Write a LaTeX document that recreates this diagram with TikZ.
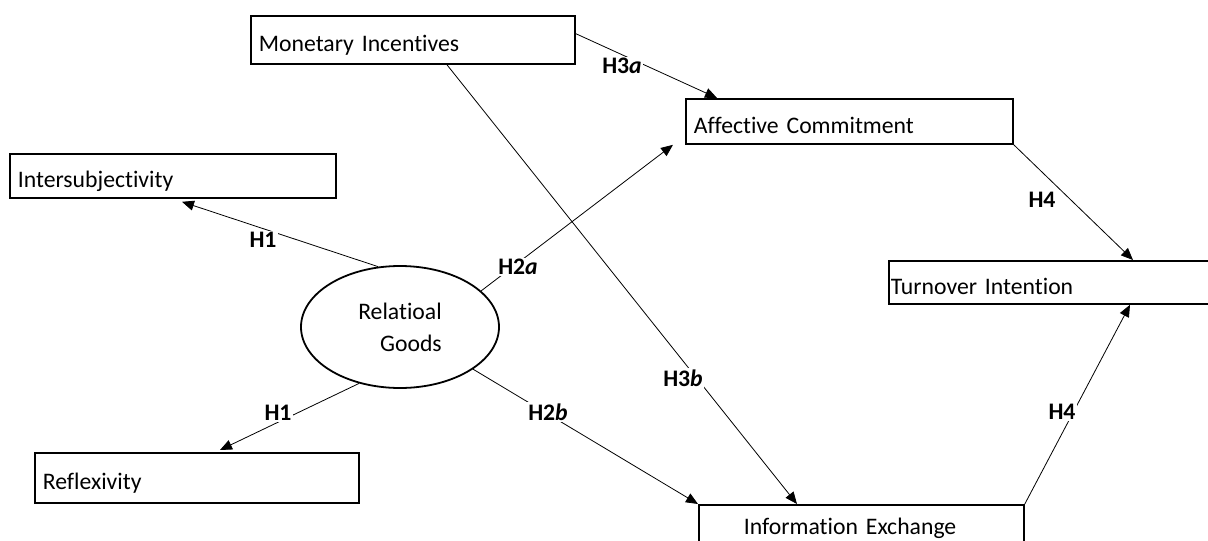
\documentclass[tikz,border=0pt]{standalone}
\usepackage{fontspec}
\setmainfont{Carlito}[Ligatures={NoCommon}]
\usetikzlibrary{arrows.meta,shapes.geometric,calc}
\begin{document}
\begin{tikzpicture}[x=1pt,y=-1pt,
  box/.style={draw, line width=1.8pt, rectangle, anchor=north west, inner xsep=8pt, inner ysep=0pt, align=left,
    text height=24pt, text depth=0pt, font=\fontsize{23.7}{28}\selectfont},
  conn/.style={line width=0.8pt, -{Triangle[length=12pt,width=10pt]}},
  hyp/.style={fill=white, inner sep=1.5pt, font=\fontsize{23.7}{28}\selectfont\bfseries}]
\useasboundingbox (0,0) rectangle (1208,541);
\fill[white] (0,0) rectangle (1208,541);
% boxes
\node[box, minimum height=48, text width=308] (mi) at (250,15) {Monetary Incentives};
\node[box, minimum height=45, text width=311] (ac) at (685,98) {Affective Commitment};
\node[box, minimum height=44, text width=310] (is) at (9,153) {Intersubjectivity};
\node[box, minimum height=43, text width=326, inner xsep=2pt] (ti) at (888,260) {Turnover Intention};
\node[box, minimum height=50, text width=308] (rf) at (34,452) {Reflexivity};
\node[box, text width=309, text height=30pt, text depth=22pt] (ie) at (698,504) {\hspace*{37pt}Information Exchange};
\node[draw, ellipse, line width=1.8pt, minimum width=198, minimum height=122, inner sep=0pt, align=right,
  font=\fontsize{23.7}{32}\selectfont] (rg) at (400,327) {Relatioal\\Goods};
% end points on the boxes
\coordinate (h3a-s) at ($(mi.north east)!0.375!(mi.south east)$);
\coordinate (h3a-e) at ($(ac.north west)+(32,0)$);
\coordinate (h3b-s) at ($(mi.south west)+(197,0)$);
\coordinate (h3b-e) at ($(ie.north west)+(99,0)$);
\coordinate (h2a-e) at ($(ac.south west)+(-12,0)$);
\coordinate (h4u-e) at ($(ti.north west)+(245,0)$);
\coordinate (h4l-e) at ($(ti.south west)+(242,0)$);
\coordinate (h1u-e) at ($(is.south west)+(173,3)$);
\coordinate (h1l-e) at ($(rf.north west)+(186,-2)$);
% connectors
\draw[conn] (h3a-s) -- (h3a-e);
\draw[conn] (h3b-s) -- (h3b-e);
\draw[conn] (rg.24) -- (h2a-e);
\draw[conn] (rg.-30) -- (ie.north west);
\draw[conn] (ac.south east) -- (h4u-e);
\draw[conn] (ie.north east) -- (h4l-e);
\draw[conn] (rg.110) -- (h1u-e);
\draw[conn] (rg.234) -- (h1l-e);
% labels
\node[hyp] (l3a) at (622,66) {H3\textit{a}};
\node[hyp] (l3b) at (683,378) {H3\textit{b}};
\node[hyp] (l2a) at (518,267) {H2\textit{a}};
\node[hyp] (l2b) at (548,412) {H2\textit{b}};
\node[hyp] (l4u) at (1042,200) {H4};
\node[hyp] (l4l) at (1062,412) {H4};
\node[hyp] (l1u) at (263,240) {H1};
\node[hyp] (l1l) at (278,413) {H1};
\end{tikzpicture}
\end{document}
